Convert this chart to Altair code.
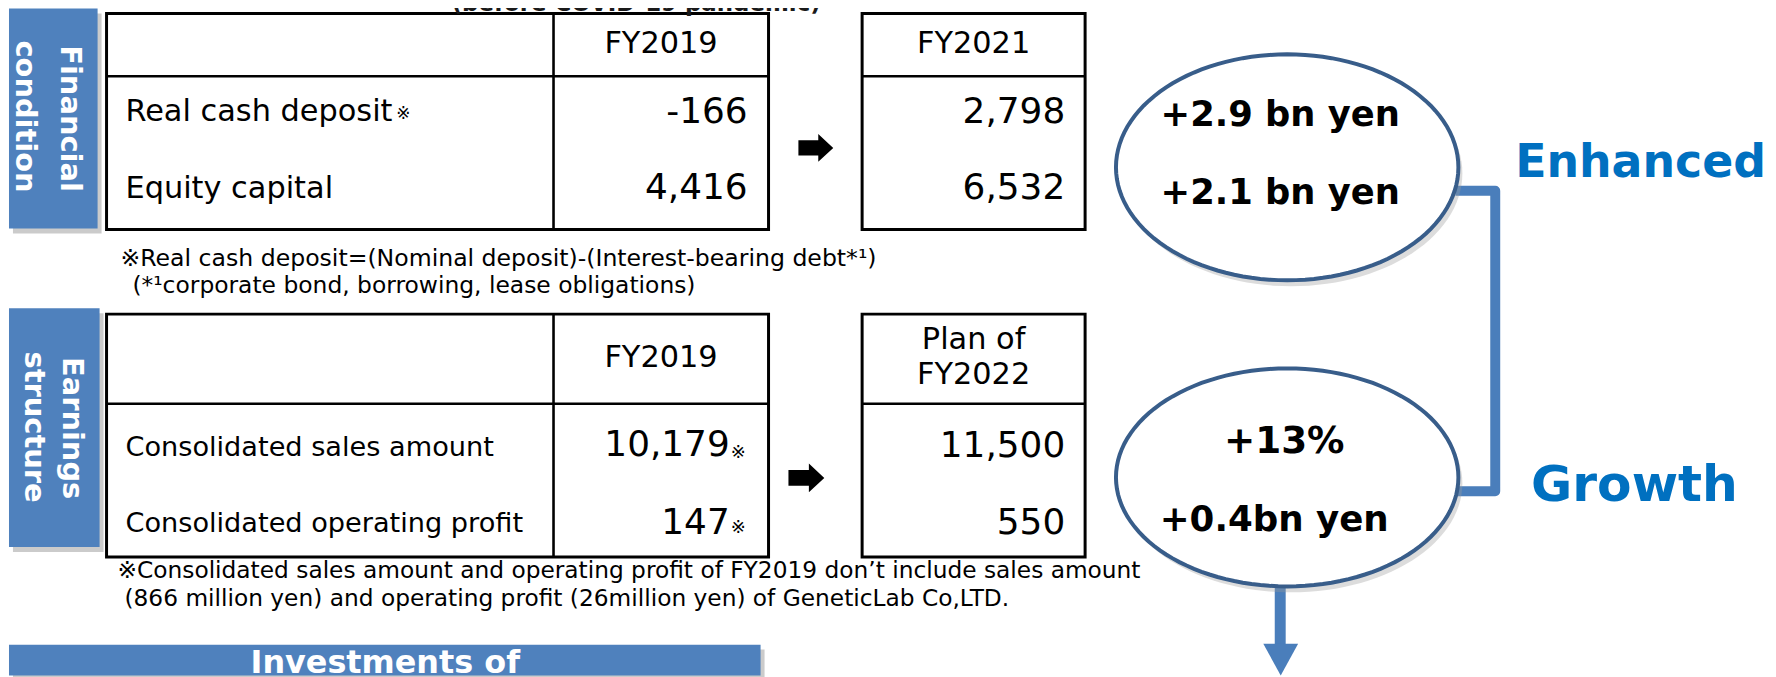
import math
import altair as alt
import pandas as pd

# ---------------- data ----------------
subtitle = "(before COVID-19 pandemic)"
fin_title = ["Financial", "condition"]
earn_title = ["Earnings", "structure"]
fin_cols = ["FY2019", "FY2021"]
earn_cols = ["FY2019", "Plan of", "FY2022"]
fin_items = ["Real cash deposit", "Equity capital"]
fin_fy2019 = [-166, 4416]
fin_fy2021 = [2798, 6532]
earn_items = ["Consolidated sales amount", "Consolidated operating profit"]
earn_fy2019 = [10179, 147]
earn_plan2022 = [11500, 550]
fin_gain = ["+2.9 bn yen", "+2.1 bn yen"]
earn_gain = ["+13%", "+0.4bn yen"]
outcomes = ["Enhanced", "Growth"]
notes_fin = ["※Real cash deposit=(Nominal deposit)-(Interest-bearing debt*¹)",
             "(*¹corporate bond, borrowing, lease obligations)"]
notes_earn = ["※Consolidated sales amount and operating profit of FY2019 don’t include sales amount",
              "(866 million yen) and operating profit (26million yen) of GeneticLab Co,LTD."]
banner = "Investments of"
mark_ref = "※"

# ---------------- layout ----------------
W, H = 1768, 669
X0, Y0 = 8, 8
FONT = "DejaVu Sans, Noto Sans CJK JP"
BLUE = "#4F81BD"
xs = alt.Scale(domain=[X0, X0 + W], nice=False, zero=False)
ys = alt.Scale(domain=[Y0, Y0 + H], nice=False, zero=False, reverse=True)


def fmt(v):
    return f"{v:,}"


def X(f="x"):
    return alt.X(f"{f}:Q", scale=xs, axis=None)


def Y(f="y"):
    return alt.Y(f"{f}:Q", scale=ys, axis=None)


def rects(rows, **kw):
    df = pd.DataFrame(rows, columns=["x", "y", "x2", "y2"])
    return alt.Chart(df).mark_rect(**kw).encode(
        x=X(), y=Y(), x2=alt.X2("x2:Q"), y2=alt.Y2("y2:Q"))


def rules(rows, **kw):
    df = pd.DataFrame(rows, columns=["x", "y", "x2", "y2"])
    return alt.Chart(df).mark_rule(**kw).encode(
        x=X(), y=Y(), x2=alt.X2("x2:Q"), y2=alt.Y2("y2:Q"))


def texts(rows, **kw):
    df = pd.DataFrame(rows, columns=["x", "y", "text", "size"])
    kw.setdefault("font", FONT)
    return alt.Chart(df).mark_text(**kw).encode(
        x=X(), y=Y(), text="text:N", size=alt.Size("size:Q", scale=None))


def points(rows, shape, size, **kw):
    df = pd.DataFrame(rows, columns=["x", "y"])
    kw.setdefault("opacity", 1)
    return alt.Chart(df).mark_point(shape=shape, size=size, filled=True, **kw).encode(
        x=X(), y=Y())


def ellipse_path(ratio, n=120):
    pts = [f"{math.cos(2*math.pi*i/n):.4f} {ratio*math.sin(2*math.pi*i/n):.4f}" for i in range(n)]
    return "M " + " L ".join(pts) + " Z"


# table geometry
T_LEFT, T_MID, T_RIGHT = 107, 556, 772
R_LEFT, R_RIGHT = 866, 1090
tables = [dict(top=12, head=75, bottom=229), dict(top=314, head=404, bottom=558)]
side = [(9, 7, 98, 228), (9, 308, 100, 548)]
banner_box = (9, 646, 764, 677)

layers = []

# shadows of the blue labels
sh = [(a + 4, b + 5, c + 4, d + 5) for a, b, c, d in side + [banner_box]]
layers.append(rects(sh, color="#8c8c8c", opacity=0.45))
layers.append(rects(side + [banner_box], color=BLUE))

# table boxes
boxes = []
for t in tables:
    boxes.append((T_LEFT, t["top"], T_RIGHT, t["bottom"]))
    boxes.append((R_LEFT, t["top"], R_RIGHT, t["bottom"]))
layers.append(rects(boxes, color="white", stroke="black", strokeWidth=3))
inner = []
for t in tables:
    inner.append((T_LEFT, t["head"], T_RIGHT, t["head"]))
    inner.append((R_LEFT, t["head"], R_RIGHT, t["head"]))
    inner.append((T_MID, t["top"], T_MID, t["bottom"]))
layers.append(rules(inner, color="black", strokeWidth=2.6))

# black block arrows between tables
arrow_r = "M -1 -0.44 L 0.14 -0.44 L 0.14 -0.8 L 1 0 L 0.14 0.8 L 0.14 0.44 L -1 0.44 Z"
layers.append(points([(819.5, 147)], arrow_r, 35 ** 2, color="black"))
layers.append(points([(810, 478.5)], arrow_r, 36 ** 2, color="black"))

# bracket connecting the two ellipses
br = pd.DataFrame({"x": [1462, 1502, 1502, 1462], "y": [190, 190, 492, 492], "o": [0, 1, 2, 3]})
layers.append(alt.Chart(br).mark_line(color="#4A7EBB", strokeWidth=10, strokeJoin="round").encode(
    x=X(), y=Y(), order="o:Q"))

# down arrow
layers.append(rules([(1286, 586, 1286, 647)], color="#4A7EBB", strokeWidth=11))
layers.append(points([(1286.5, 661)], "M -1 -0.91 L 1 -0.91 L 0 0.91 Z", 35 ** 2, color="#4A7EBB"))

# ellipses
ells = [(1293, 166.5, 172, 113.5), (1293, 478, 172, 109.5)]
for cx, cy, rx, ry in ells:
    p = ellipse_path(ry / rx)
    layers.append(points([(cx + 4, cy + 6)], p, (2 * rx) ** 2, color="#9a9a9a", opacity=0.35))
for cx, cy, rx, ry in ells:
    p = ellipse_path(ry / rx)
    layers.append(alt.Chart(pd.DataFrame({"x": [cx], "y": [cy]})).mark_point(
        shape=p, size=(2 * rx) ** 2, filled=True, fill="white", stroke="#385D8A",
        strokeWidth=4, opacity=1).encode(x=X(), y=Y()))

# ---------------- text ----------------
# rotated side labels (baseline x, centre y)
rot = [(61, 117.5, fin_title[0], 29), (16, 115.5, fin_title[1], 29),
       (63, 428.5, earn_title[0], 29), (25, 427.5, earn_title[1], 29)]
layers.append(texts(rot, angle=90, align="center", baseline="alphabetic",
                    fontWeight="bold", color="white"))

# column headers
hdr = [(664, 52, fin_cols[0], 30.5), (978, 52, fin_cols[1], 30.5),
       (664, 367, earn_cols[0], 30.5), (978, 349, earn_cols[1], 30.5), (978, 384, earn_cols[2], 30.5)]
layers.append(texts(hdr, align="center", baseline="alphabetic", color="black"))

# row labels
lab = [(126, 120, fin_items[0], 30.5), (126, 197, fin_items[1], 30.5),
       (126, 457, earn_items[0], 27.3), (126, 533, earn_items[1], 27.3)]
layers.append(texts(lab, align="left", baseline="alphabetic", color="black"))

# values
vals = [(751, 122, fmt(fin_fy2019[0]), 36), (751, 198, fmt(fin_fy2019[1]), 36),
        (1070, 122, fmt(fin_fy2021[0]), 36), (1070, 198, fmt(fin_fy2021[1]), 36),
        (733, 457, fmt(earn_fy2019[0]), 36), (733, 535, fmt(earn_fy2019[1]), 36),
        (1070, 458, fmt(earn_plan2022[0]), 36), (1070, 535, fmt(earn_plan2022[1]), 36)]
layers.append(texts(vals, align="right", baseline="alphabetic", color="black"))

# small reference marks
refs = [(398, 113, mark_ref, 17), (734, 454, mark_ref, 18), (734, 529, mark_ref, 18)]
layers.append(texts(refs, align="left", baseline="middle", color="black"))

# footnotes
notes = [(121, 259, notes_fin[0], 23.7), (133, 286, notes_fin[1], 23.5),
         (118, 572, notes_earn[0], 23.4), (125, 600, notes_earn[1], 23.4)]
layers.append(texts(notes, align="left", baseline="middle", color="black"))

# ellipse figures
gains = [(1286, 125, fin_gain[0], 35.5), (1286, 203, fin_gain[1], 35.5),
         (1290, 453, earn_gain[0], 37.5), (1280, 532, earn_gain[1], 35.8)]
layers.append(texts(gains, align="center", baseline="alphabetic", fontWeight="bold", color="black"))

# outcome words
outs = [(1522, 176, outcomes[0], 46), (1538, 502, outcomes[1], 50.5)]
layers.append(texts(outs, align="left", baseline="alphabetic", fontWeight="bold", color="#0070C0"))

# banner + clipped subtitle
layers.append(texts([(387, 674, banner, 32)], align="center", baseline="alphabetic",
                    fontWeight="bold", color="white"))
layers.append(texts([(639, 9, subtitle, 23)], align="center", baseline="alphabetic",
                    fontWeight="bold", color="#1a1a1a"))

chart = alt.layer(*layers).properties(
    width=W, height=H, padding=0, autosize="none"
).configure_view(stroke=None)

chart.save("out.html", embed_options={"renderer": "svg", "actions": False})
